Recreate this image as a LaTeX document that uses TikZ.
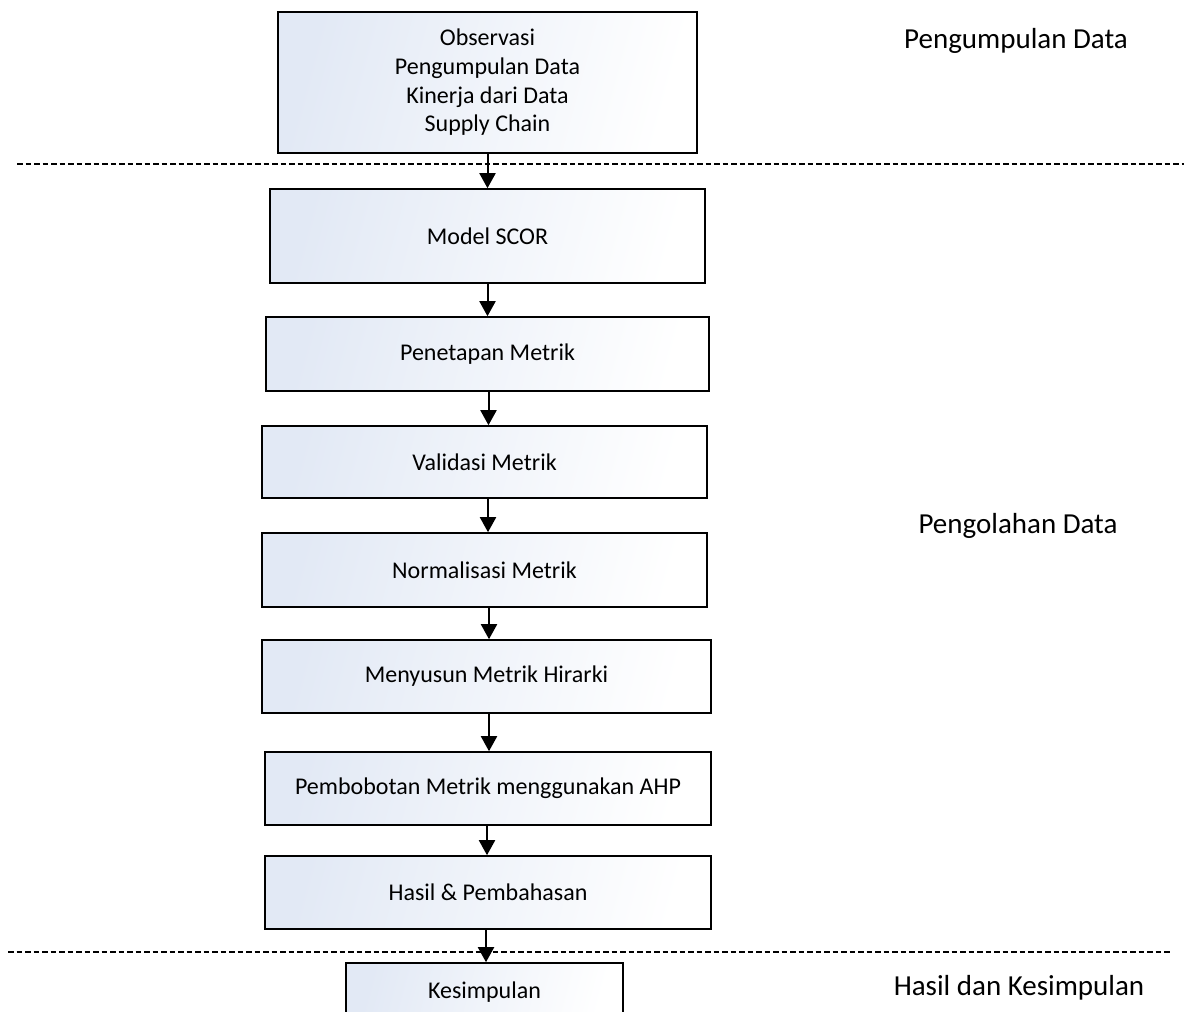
\documentclass[tikz,border=0pt]{standalone}
\usepackage{fontspec}
\setmainfont{Carlito}
\usepackage{tikz}
\usetikzlibrary{arrows.meta}
\usepackage{xcolor}

\definecolor{boxblue}{RGB}{226,233,245}

\tikzset{
    stage/.style={draw=black, line width=1.6pt, left color=boxblue, right color=white,
        shading angle=75, inner sep=0pt, align=center,
        font=\fontsize{24}{28.7}\selectfont},
    flow/.style={line width=2pt, -{Triangle[width=16pt,length=15pt]}},
    sepline/.style={line width=2.2pt, dash pattern=on 5.5pt off 3pt},
    phase/.style={anchor=base, font=\fontsize{29}{34}\selectfont}
}

\begin{document}
\begin{tikzpicture}[x=1pt, y=-1pt]
    % Page frame
    \useasboundingbox (0,0) rectangle (1184,1012);
    \clip (0,0) rectangle (1184,1012);

    % Phase separators
    \draw[sepline] (17,164) -- (1184,164);
    \draw[sepline] (8,952) -- (1170,952);

    % Phase labels
    \node[phase] (lblcollect) at (1016,48) {Pengumpulan Data};
    \node[phase] (lblprocess) at (1018,533) {Pengolahan Data};
    \node[phase] (lblresult) at (1019,995) {Hasil dan Kesimpulan};

    % Steps
    \node[stage, minimum width=419pt, minimum height=141pt] (observasi) at (487.5,82.5)
        {Observasi\\Pengumpulan Data\\Kinerja dari Data\\Supply Chain};
    \node[stage, minimum width=435pt, minimum height=94pt] (scor) at (487.5,236) {Model SCOR};
    \node[stage, minimum width=443pt, minimum height=74pt] (penetapan) at (487.5,354) {Penetapan Metrik};
    \node[stage, minimum width=445pt, minimum height=72pt] (validasi) at (484.5,462) {Validasi Metrik};
    \node[stage, minimum width=445pt, minimum height=74pt] (normalisasi) at (484.5,570) {Normalisasi Metrik};
    \node[stage, minimum width=449pt, minimum height=73pt] (hirarki) at (486.5,676.5) {Menyusun Metrik Hirarki};
    \node[stage, minimum width=446pt, minimum height=73pt] (ahp) at (488,788.5) {Pembobotan Metrik menggunakan AHP};
    \node[stage, minimum width=446pt, minimum height=73pt] (hasil) at (488,892.5) {Hasil \& Pembahasan};
    \node[stage, minimum width=277pt, minimum height=59pt] (kesimpulan) at (484.5,992.5) {Kesimpulan};

    % Arrows
    \draw[flow] (observasi.south) -- (observasi.south |- scor.north);
    \draw[flow] (scor.south) -- (scor.south |- penetapan.north);
    \draw[flow] ([xshift=1pt]penetapan.south) -- ([xshift=1pt]penetapan.south |- validasi.north);
    \draw[flow] ([xshift=3.5pt]validasi.south) -- ([xshift=3.5pt]validasi.south |- normalisasi.north);
    \draw[flow] ([xshift=4.5pt]normalisasi.south) -- ([xshift=4.5pt]normalisasi.south |- hirarki.north);
    \draw[flow] ([xshift=2.5pt]hirarki.south) -- ([xshift=2.5pt]hirarki.south |- ahp.north);
    \draw[flow] ([xshift=-1pt]ahp.south) -- ([xshift=-1pt]ahp.south |- hasil.north);
    \draw[flow] ([xshift=-2pt]hasil.south) -- ([xshift=-2pt]hasil.south |- kesimpulan.north);
\end{tikzpicture}
\end{document}
